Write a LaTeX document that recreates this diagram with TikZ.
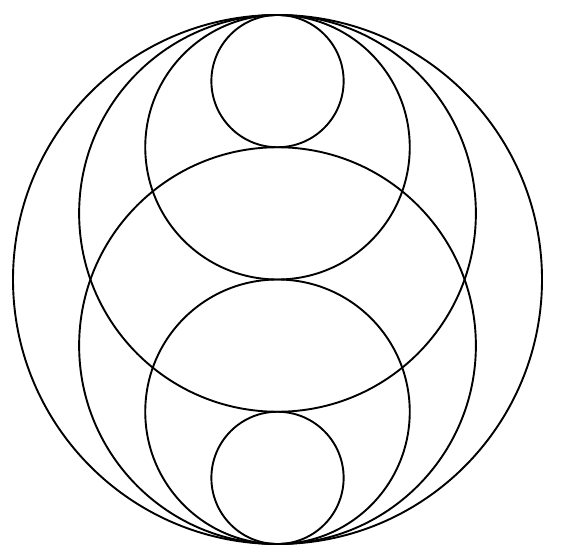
\documentclass[tikz,border=0pt]{standalone}
\usetikzlibrary{calc}
\begin{document}
\begin{tikzpicture}[x=1bp,y=-1bp,ring/.style={draw=black,line width=1.9bp}]
\useasboundingbox (0,0) rectangle (561,557);
\def\R{264.5}
\coordinate (top) at (277.5,15);
\coordinate (bot) at (277.5,544);
% outer circle
\draw[ring] (277.5,279.5) circle[radius=\R];
% circles tangent at top
\draw[ring] ($(top)+(0,0.75*\R)$) circle[radius=0.75*\R];
\draw[ring] ($(top)+(0,0.5*\R)$) circle[radius=0.5*\R];
\draw[ring] ($(top)+(0,0.25*\R)$) circle[radius=0.25*\R];
% circles tangent at bottom
\draw[ring] ($(bot)-(0,0.75*\R)$) circle[radius=0.75*\R];
\draw[ring] ($(bot)-(0,0.5*\R)$) circle[radius=0.5*\R];
\draw[ring] ($(bot)-(0,0.25*\R)$) circle[radius=0.25*\R];
\end{tikzpicture}
\end{document}
